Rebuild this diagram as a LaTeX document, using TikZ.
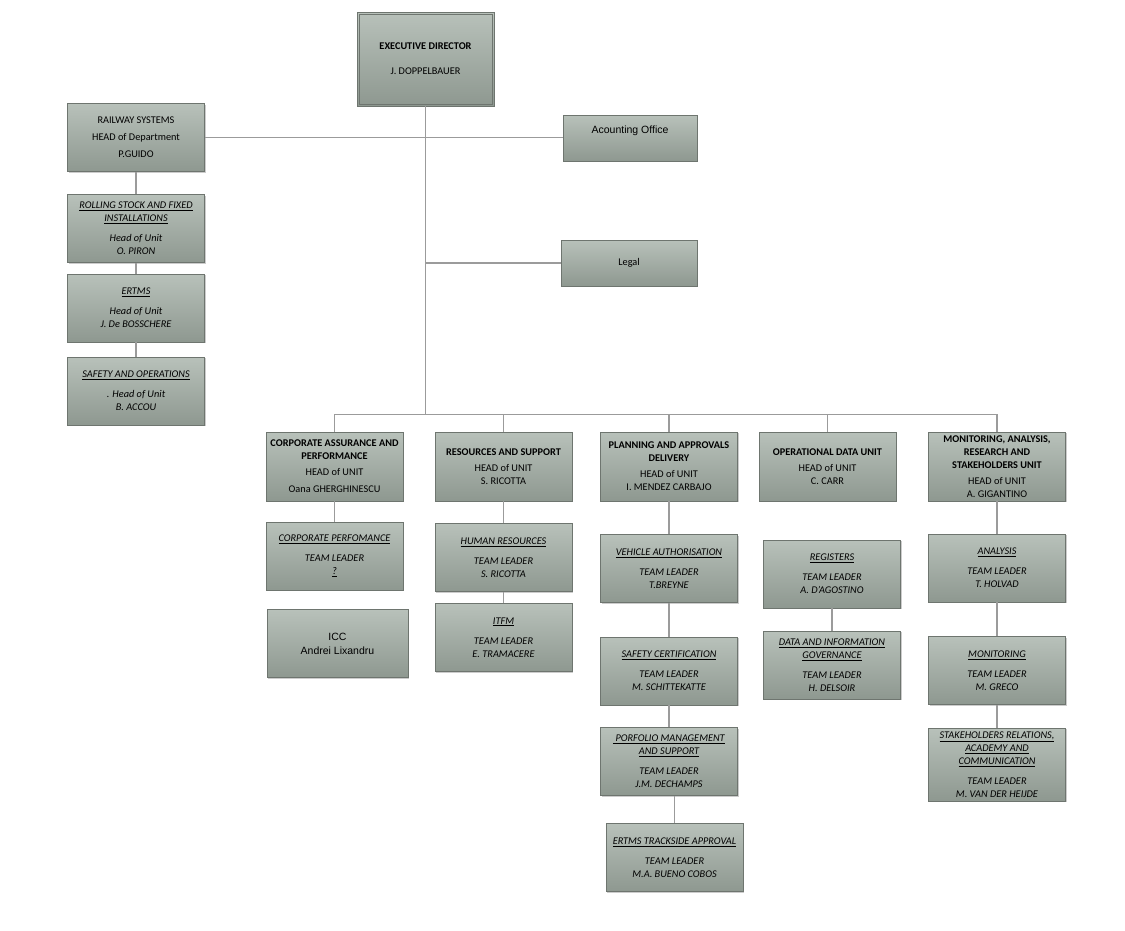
\documentclass[tikz,border=0pt]{standalone}
\usepackage{fontspec}
\setmainfont{Carlito}
\newfontfamily\arialfont{Liberation Sans}
\usepackage{tikz}
\usetikzlibrary{positioning, shadows}
\definecolor{boxtop}{HTML}{B8C1BA}
\definecolor{boxbottom}{HTML}{8E9890}
\definecolor{boxline}{HTML}{6E756F}
\definecolor{linkgray}{HTML}{9B9B9B}

\begin{document}
\begin{tikzpicture}[
    x=1pt, y=-1pt,
    box/.style={draw=boxline, top color=boxtop, bottom color=boxbottom, minimum width=137pt, minimum height=68pt, inner sep=1pt, align=center, font=\fontsize{10.3}{13}\selectfont, drop shadow={shadow xshift=1.2pt, shadow yshift=-1.2pt, fill=black, opacity=0.2}},
    unitbox/.style={box, minimum height=69pt},
    teambox/.style={box, font=\fontsize{10.3}{13}\selectfont\itshape},
    smallbox/.style={box, minimum height=46pt},
    arialtext/.style={font=\arialfont\fontsize{10.5}{14}\selectfont},
    link/.style={draw=linkgray, line width=1.3pt},
]
\path[use as bounding box, fill=white] (0,0) rectangle (1125,930);

% Director and staff offices
\node[box, minimum height=94pt] (exec) at (425.5, 59) {\textbf{EXECUTIVE DIRECTOR}\\[12pt] J. DOPPELBAUER};
\draw[boxline] ([shift={(2pt,-2pt)}]exec.north west) rectangle ([shift={(-2pt,2pt)}]exec.south east);
\node[smallbox, minimum width=134pt, arialtext] (acct) at (630, 138) {Acounting Office\\[2pt]~};
\node[smallbox, minimum width=136pt] (legal) at (629, 263) {Legal};
\path (exec.south) ++(0,308) coordinate (bus);

% Railway systems - left column
\node[box] (rail) at (136, 137.5) {RAILWAY SYSTEMS\\[4pt] HEAD of Department\\[4pt] P.GUIDO};
\node[teambox] (rolling) at (136, 228.5) {\underline{ROLLING STOCK AND FIXED}\\\underline{INSTALLATIONS}\\[7pt] Head of Unit\\ O. PIRON};
\node[teambox] (ertms) at (136, 308) {\underline{ERTMS}\\[7pt] Head of Unit\\ J. De BOSSCHERE};
\node[teambox] (safops) at (136, 391) {\underline{SAFETY AND OPERATIONS}\\[7pt] . Head of Unit\\ B. ACCOU};

% Units
\node[unitbox] (corp) at (334.5, 466.5) {\textbf{CORPORATE ASSURANCE AND}\\\textbf{PERFORMANCE}\\[3pt] HEAD of UNIT\\[4pt] Oana GHERGHINESCU};
\node[unitbox] (res) at (503.5, 466.5) {\textbf{RESOURCES AND SUPPORT}\\[3pt] HEAD of UNIT\\ S. RICOTTA};
\node[unitbox] (plan) at (669, 466.5) {\textbf{PLANNING AND APPROVALS}\\\textbf{DELIVERY}\\[3pt] HEAD of UNIT\\ I. MENDEZ CARBAJO};
\node[unitbox] (opd) at (827.5, 466.5) {\textbf{OPERATIONAL DATA UNIT}\\[3pt] HEAD of UNIT\\ C. CARR};
\node[unitbox] (mon) at (997, 466.5) {\textbf{MONITORING, ANALYSIS,}\\\textbf{RESEARCH AND}\\\textbf{STAKEHOLDERS UNIT}\\[3pt] HEAD of UNIT\\ A. GIGANTINO};

% Teams
\node[teambox] (cperf) at (334.5, 556) {\underline{CORPORATE PERFOMANCE}\\[7pt] TEAM LEADER\\ \underline{?}};
\node[box, minimum width=141pt, arialtext] (icc) at (337.5, 643.5) {ICC\\Andrei Lixandru};
\node[teambox] (hr) at (503.5, 557.5) {\underline{HUMAN RESOURCES}\\[7pt] TEAM LEADER\\ S. RICOTTA};
\node[teambox] (itfm) at (503.5, 637.5) {\underline{ITFM}\\[7pt] TEAM LEADER\\ E. TRAMACERE};
\node[teambox] (veh) at (669, 568.5) {\underline{VEHICLE AUTHORISATION}\\[7pt] TEAM LEADER\\ T.BREYNE};
\node[teambox] (safcert) at (669, 671) {\underline{SAFETY CERTIFICATION}\\[7pt] TEAM LEADER\\ M. SCHITTEKATTE};
\node[teambox] (porf) at (669, 761.5) {\underline{~PORFOLIO MANAGEMENT}\\\underline{AND SUPPORT}\\[7pt] TEAM LEADER\\ J.M. DECHAMPS};
\node[teambox] (track) at (674.5, 857.5) {\underline{ERTMS TRACKSIDE APPROVAL}\\[7pt] TEAM LEADER\\ M.A. BUENO COBOS};
\node[teambox] (regs) at (832, 574) {\underline{REGISTERS}\\[7pt] TEAM LEADER\\ A. D'AGOSTINO};
\node[teambox] (datagov) at (832, 665) {\underline{DATA AND INFORMATION}\\\underline{GOVERNANCE}\\[7pt] TEAM LEADER\\ H. DELSOIR};
\node[teambox] (anal) at (997, 568) {\underline{ANALYSIS}\\[7pt] TEAM LEADER\\ T. HOLVAD};
\node[teambox] (monit) at (997, 670.5) {\underline{MONITORING}\\[7pt] TEAM LEADER\\ M. GRECO};
\node[teambox, minimum height=73pt] (stake) at (997, 764.5) {\underline{STAKEHOLDERS RELATIONS,}\\\underline{ACADEMY AND}\\\underline{COMMUNICATION}\\[7pt] TEAM LEADER\\ M. VAN DER HEIJDE};

% Connectors
\draw[link] (exec.south) -- (bus);
\draw[link] (rail.east) -- (rail.east -| acct.west);
\draw[link] (exec.south |- legal.west) -- (legal.west);
\draw[link] (corp.north) |- (mon.north |- bus) -- (mon.north);
\foreach \u in {res, plan, opd}
    \draw[link] (\u.north) -- (\u.north |- bus);
\draw[link] (rail) -- (rolling) -- (ertms) -- (safops);
\draw[link] (corp) -- (cperf);
\draw[link] (res) -- (hr) -- (itfm);
\draw[link] (plan) -- (veh) -- (safcert) -- (porf);
\draw[link] (track.north |- porf.south) -- (track.north);
\draw[link] (regs) -- (datagov);
\draw[link] (mon) -- (anal) -- (monit) -- (stake);
\end{tikzpicture}
\end{document}
